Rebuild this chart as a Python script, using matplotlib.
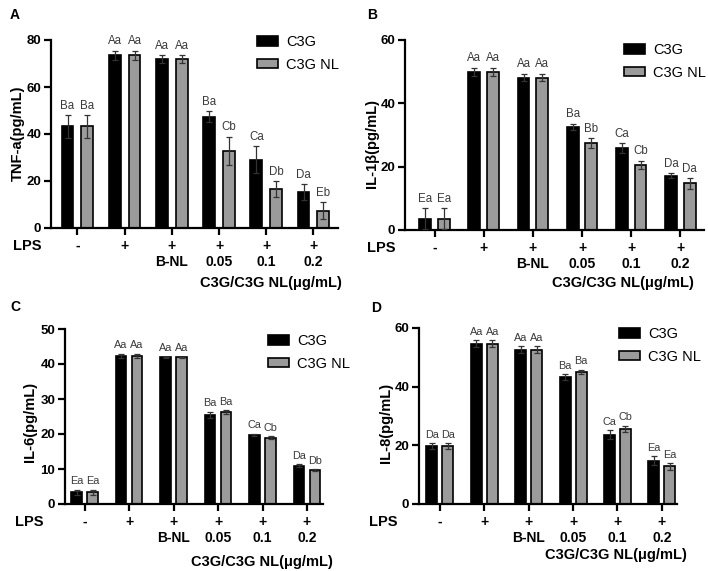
import numpy as np
import matplotlib
matplotlib.use('Agg')
import matplotlib.pyplot as plt
from matplotlib.transforms import blended_transform_factory

plt.rcParams['font.family'] = ['Liberation Sans', 'DejaVu Sans']

# data
lps_row = ['-', '+', '+', '+', '+', '+']
dose_row = ['', '', 'B-NL', '0.05', '0.1', '0.2']

tnf_c3g = [43.2, 73.6, 71.9, 47.4, 29.0, 15.3]
tnf_c3g_err = [4.7, 1.9, 1.7, 2.2, 5.7, 3.4]
tnf_nl = [43.2, 73.6, 71.9, 32.8, 16.6, 7.4]
tnf_nl_err = [4.7, 1.9, 1.7, 6.1, 3.2, 3.5]
tnf_let_c3g = ['Ba', 'Aa', 'Aa', 'Ba', 'Ca', 'Da']
tnf_let_nl = ['Ba', 'Aa', 'Aa', 'Cb', 'Db', 'Eb']

il1b_c3g = [3.5, 50.0, 48.1, 32.6, 25.8, 17.2]
il1b_c3g_err = [3.3, 1.3, 1.2, 0.9, 1.6, 0.7]
il1b_nl = [3.5, 50.0, 48.1, 27.4, 20.5, 14.7]
il1b_nl_err = [3.3, 1.3, 1.2, 1.5, 1.3, 1.6]
il1b_let_c3g = ['Ea', 'Aa', 'Aa', 'Ba', 'Ca', 'Da']
il1b_let_nl = ['Ea', 'Aa', 'Aa', 'Bb', 'Cb', 'Da']

il6_c3g = [3.4, 42.4, 41.9, 25.5, 19.8, 11.0]
il6_c3g_err = [0.7, 0.6, 0.2, 0.8, 0.3, 0.4]
il6_nl = [3.4, 42.4, 41.9, 26.2, 18.9, 9.6]
il6_nl_err = [0.7, 0.6, 0.2, 0.6, 0.4, 0.3]
il6_let_c3g = ['Ea', 'Aa', 'Aa', 'Ba', 'Ca', 'Da']
il6_let_nl = ['Ea', 'Aa', 'Aa', 'Ba', 'Cb', 'Db']

il8_c3g = [19.8, 54.7, 52.6, 43.3, 23.6, 14.7]
il8_c3g_err = [0.9, 1.1, 1.2, 0.9, 1.6, 1.5]
il8_nl = [19.8, 54.7, 52.6, 45.0, 25.7, 12.8]
il8_nl_err = [0.9, 1.1, 1.2, 0.8, 1.0, 1.1]
il8_let_c3g = ['Da', 'Aa', 'Aa', 'Ba', 'Ca', 'Ea']
il8_let_nl = ['Da', 'Aa', 'Aa', 'Ba', 'Cb', 'Ea']

W, H = 708, 571
fig = plt.figure(figsize=(W / 100, H / 100), dpi=100)

def fx(px):
    return px / W

def fy(py):
    return 1 - py / H

# panel settings: letter, ylabel, ylim, step, axes box (px), bar layout, label positions
panels = [
    dict(tag='A', ylabel='TNF-a(pg/mL)', ymax=80, step=20,
         c3g=tnf_c3g, c3g_err=tnf_c3g_err, nl=tnf_nl, nl_err=tnf_nl_err,
         let_c3g=tnf_let_c3g, let_nl=tnf_let_nl,
         box=(51, 338, 40, 228), xlim=(-0.56, 5.52), off=0.21, width=0.25, let_fs=8.3,
         tag_xy=(10, 15), ylab_xy=(18, 133), lps_x=13, xlab_xy=(342, 283),
         leg_xy=(257, 35)),
    dict(tag='B', ylabel='IL-1β(pg/mL)', ymax=60, step=20,
         c3g=il1b_c3g, c3g_err=il1b_c3g_err, nl=il1b_nl, nl_err=il1b_nl_err,
         let_c3g=il1b_let_c3g, let_nl=il1b_let_nl,
         box=(405, 704, 40, 230), xlim=(-0.6, 5.48), off=0.19, width=0.24, let_fs=8.3,
         tag_xy=(367, 15), ylab_xy=(372, 143), lps_x=367, xlab_xy=(694, 283),
         leg_xy=(624, 43)),
    dict(tag='C', ylabel='IL-6(pg/mL)', ymax=50, step=10,
         c3g=il6_c3g, c3g_err=il6_c3g_err, nl=il6_nl, nl_err=il6_nl_err,
         let_c3g=il6_let_c3g, let_nl=il6_let_nl,
         box=(65, 323, 329, 504), xlim=(-0.44, 5.36), off=0.18, width=0.235, let_fs=7.8,
         tag_xy=(10, 307), ylab_xy=(30, 422), lps_x=15, xlab_xy=(333, 562),
         leg_xy=(268, 334)),
    dict(tag='D', ylabel='IL-8(pg/mL)', ymax=60, step=20,
         c3g=il8_c3g, c3g_err=il8_c3g_err, nl=il8_nl, nl_err=il8_nl_err,
         let_c3g=il8_let_c3g, let_nl=il8_let_nl,
         box=(419, 677, 328, 504), xlim=(-0.47, 5.34), off=0.18, width=0.245, let_fs=7.8,
         tag_xy=(371, 308), ylab_xy=(386, 423), lps_x=369, xlab_xy=(687, 555),
         leg_xy=(619, 327)),
]

gray = '#9b9b9b'
txt_gray = '#3a3a3a'

for p in panels:
    x0, x1, y0, y1 = p['box']
    ax = fig.add_axes([fx(x0), fy(y1), fx(x1 - x0), (y1 - y0) / H])
    x = np.arange(len(lps_row))
    off, w = p['off'], p['width']

    b1 = ax.bar(x - off, p['c3g'], w, color='black', edgecolor='black', lw=1.2,
                label='C3G', zorder=2)
    b2 = ax.bar(x + off, p['nl'], w, color=gray, edgecolor='black', lw=1.2,
                label='C3G NL', zorder=2)
    ax.errorbar(x - off, p['c3g'], yerr=p['c3g_err'], fmt='none', ecolor='#333333',
                elinewidth=0.9, capsize=2, capthick=0.9, zorder=3)
    ax.errorbar(x + off, p['nl'], yerr=p['nl_err'], fmt='none', ecolor='#333333',
                elinewidth=0.9, capsize=2, capthick=0.9, zorder=3)

    for xi, v, e, t in zip(x - off, p['c3g'], p['c3g_err'], p['let_c3g']):
        ax.annotate(t, (xi, v + e), xytext=(0, 2.5), textcoords='offset points',
                    ha='center', va='bottom', fontsize=p['let_fs'], color=txt_gray,
                    annotation_clip=False)
    for xi, v, e, t in zip(x + off, p['nl'], p['nl_err'], p['let_nl']):
        ax.annotate(t, (xi, v + e), xytext=(0, 2.5), textcoords='offset points',
                    ha='center', va='bottom', fontsize=p['let_fs'], color=txt_gray,
                    annotation_clip=False)

    ax.set_xlim(*p['xlim'])
    ax.set_ylim(0, p['ymax'])
    ax.set_yticks(np.arange(0, p['ymax'] + 1, p['step']))
    ax.set_xticks(x)
    ax.set_xticklabels([])
    for s in ['top', 'right']:
        ax.spines[s].set_visible(False)
    for s in ['left', 'bottom']:
        ax.spines[s].set_linewidth(1.6)
    ax.tick_params(axis='y', length=5, width=1.6, labelsize=9.5, pad=2)
    ax.tick_params(axis='x', length=5, width=1.6)
    for lab in ax.get_yticklabels():
        lab.set_fontweight('bold')

    # rows under the axis
    tr = blended_transform_factory(ax.transData, fig.transFigure)
    for xi, s1, s2 in zip(x, lps_row, dose_row):
        ax.text(xi, fy(y1 + 18), s1, transform=tr, ha='center', va='center',
                fontsize=10, fontweight='bold')
        if s2:
            ax.text(xi, fy(y1 + 34), s2, transform=tr, ha='center', va='center',
                    fontsize=10, fontweight='bold')
    fig.text(fx(p['lps_x']), fy(y1 + 18), 'LPS', ha='left', va='center',
             fontsize=10.5, fontweight='bold')
    fig.text(fx(p['xlab_xy'][0]), fy(p['xlab_xy'][1]), 'C3G/C3G NL(μg/mL)',
             ha='right', va='center', fontsize=10.5, fontweight='bold')
    fig.text(fx(p['ylab_xy'][0]), fy(p['ylab_xy'][1]), p['ylabel'], rotation=90,
             ha='center', va='center', fontsize=10.5, fontweight='bold')
    fig.text(fx(p['tag_xy'][0]), fy(p['tag_xy'][1]), p['tag'], ha='left',
             va='center', fontsize=10, fontweight='bold')

    ax.legend(handles=[b1, b2], loc='upper left',
              bbox_to_anchor=(fx(p['leg_xy'][0]), fy(p['leg_xy'][1])),
              bbox_transform=fig.transFigure, frameon=False, fontsize=10.5,
              borderpad=0, borderaxespad=0, handlelength=1.45, handleheight=0.65,
              handletextpad=0.55, labelspacing=0.6)

fig.savefig('out.png', dpi=100)
